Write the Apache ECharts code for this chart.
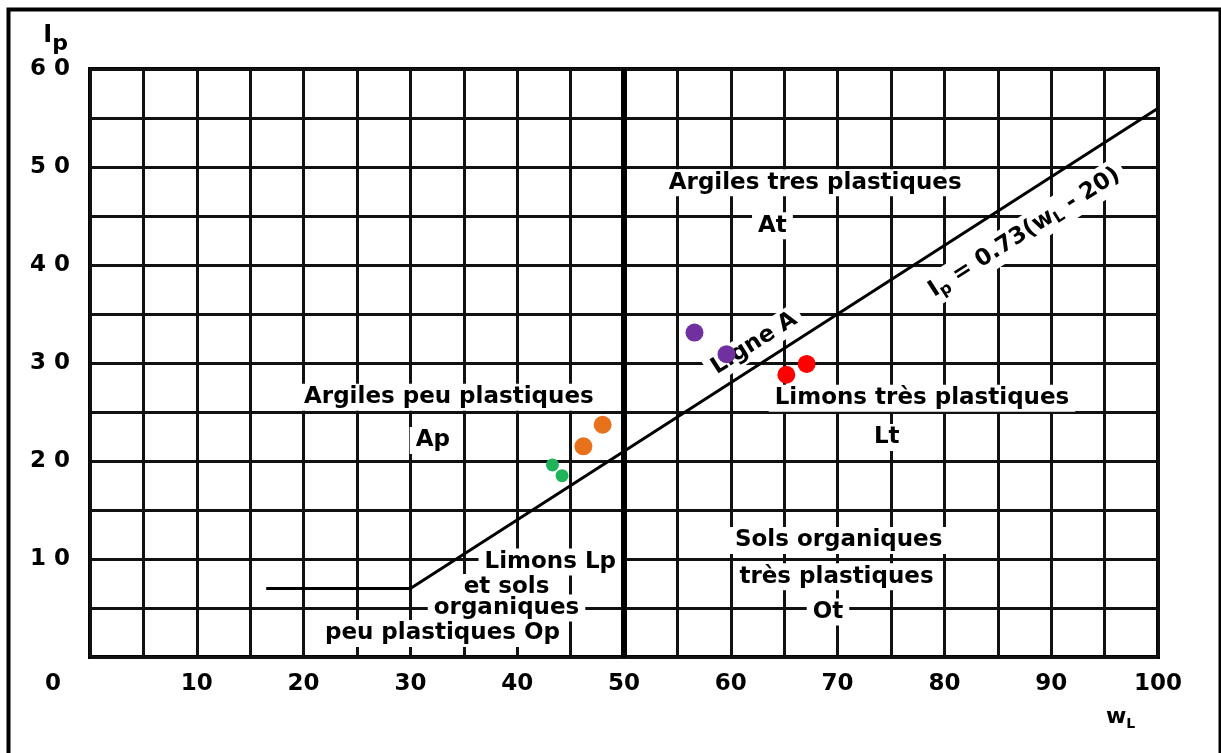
<!DOCTYPE html>
<html>
<head>
<meta charset="utf-8">
<script src="https://cdn.jsdelivr.net/npm/echarts@6/dist/echarts.min.js"></script>
<style>
  html, body { margin: 0; padding: 0; background: #fff; }
  #plasticity { width: 1221px; height: 753px; }
</style>
</head>
<body>
<div id="plasticity"></div>
<script>
// labelled ticks
const wLLabels = [0, 10, 20, 30, 40, 50, 60, 70, 80, 90, 100];
const ipLabels = [10, 20, 30, 40, 50, 60];

// A-line and the wL = 50 divider
const aLine = [[16.5, 7], [30, 7], [100, 56]];
const wLDivider = 50;

// sample points [wL, Ip]
const purplePts = [[56.6, 33.1], [59.6, 30.9]];
const redPts = [[65.2, 28.8], [67.1, 29.9]];
const orangePts = [[48.0, 23.7], [46.2, 21.5]];
const greenPts = [[43.3, 19.6], [44.2, 18.5]];

// zone names [wL, Ip, text]
const zoneNames = [
  [67.9, 48.4, 'Argiles tres plastiques'],
  [63.9, 44.0, 'At'],
  [33.6, 26.5, 'Argiles peu plastiques'],
  [32.1, 22.1, 'Ap'],
  [77.9, 26.4, 'Limons très plastiques'],
  [74.6, 22.4, 'Lt'],
  [70.1, 11.9, 'Sols organiques'],
  [69.9, 8.2, 'très plastiques'],
  [69.1, 4.6, 'Ot'],
  [43.1, 9.7, 'Limons Lp'],
  [39.0, 7.1, 'et sols'],
  [39.0, 5.0, 'organiques'],
  [33.0, 2.4, 'peu plastiques Op']
];
// text along the A-line
const lineNotes = [
  [62.2, 32.0, 'Ligne A'],
  [87.5, 43.3, '{t|I}{s|p}{t| = 0.73(w}{s|L}{t| - 20)}']
];

const FONT = 'DejaVu Sans';
const INK = '#000';
const myChart = echarts.init(document.getElementById('plasticity'));

function dots(pts, color, size) {
  return {
    type: 'scatter',
    data: pts,
    symbolSize: size,
    itemStyle: { color: color, opacity: 1 },
    z: 6,
    silent: true
  };
}

const option = {
  backgroundColor: '#fff',
  animation: false,
  graphic: [{
    type: 'rect',
    left: 6, top: 7,
    shape: { width: 1212, height: 760 },
    style: { fill: null, stroke: '#000', lineWidth: 4 },
    silent: true
  }],
  grid: {
    left: 90, right: 63, top: 69, bottom: 96,
    show: true, borderColor: '#000', borderWidth: 4, backgroundColor: '#fff'
  },
  xAxis: {
    type: 'value', min: 0, max: 100, interval: 5,
    name: '{w|w}{l|L}',
    nameLocation: 'end', nameGap: -52,
    nameTextStyle: {
      align: 'left', verticalAlign: 'top', padding: [46, 0, 0, 0],
      rich: {
        w: { fontFamily: FONT, fontWeight: 'bold', fontSize: 22, color: INK },
        l: { fontFamily: FONT, fontWeight: 'bold', fontSize: 14, color: INK, padding: [14, 0, 0, 0] }
      }
    },
    axisLine: { show: false },
    axisTick: { show: false },
    splitLine: { show: true, lineStyle: { color: '#111', width: 3 } },
    axisLabel: {
      margin: 16,
      fontFamily: FONT, fontWeight: 'bold', fontSize: 23, color: INK,
      formatter: v => {
        if (wLLabels.indexOf(v) < 0) return '';
        return v === 0 ? '{z|0}' : String(v);
      },
      rich: {
        z: { fontFamily: FONT, fontWeight: 'bold', fontSize: 23, color: INK, padding: [0, 74, 0, 0] }
      }
    }
  },
  yAxis: {
    type: 'value', min: 0, max: 60, interval: 5,
    name: '{i|I}{p|p}',
    nameLocation: 'end', nameGap: 14,
    nameTextStyle: {
      align: 'right', padding: [0, 22, 0, 0],
      rich: {
        i: { fontFamily: FONT, fontWeight: 'bold', fontSize: 24, color: INK },
        p: { fontFamily: FONT, fontWeight: 'bold', fontSize: 22, color: INK, padding: [16, 0, 0, 0] }
      }
    },
    axisLine: { show: false },
    axisTick: { show: false },
    splitLine: { show: true, lineStyle: { color: '#111', width: 3 } },
    axisLabel: {
      margin: 20,
      fontFamily: FONT, fontWeight: 'bold', fontSize: 23, color: INK,
      formatter: v => ipLabels.indexOf(v) < 0 ? '' : String(v).split('').join(' ')
    }
  },
  series: [
    {
      type: 'scatter',
      data: zoneNames.map(d => ({ value: [d[0], d[1]], label: { formatter: d[2] } })),
      symbolSize: 0,
      itemStyle: { opacity: 1 },
      z: 3,
      silent: true,
      label: {
        show: true, position: 'inside',
        fontFamily: FONT, fontWeight: 'bold', fontSize: 23, color: INK,
        backgroundColor: '#fff', padding: [2, 6]
      }
    },
    {
      type: 'scatter',
      data: lineNotes.map(d => ({ value: [d[0], d[1]], label: { formatter: d[2] } })),
      symbolSize: 0,
      itemStyle: { opacity: 1 },
      z: 3,
      silent: true,
      label: {
        show: true, position: 'inside', rotate: 32.5,
        fontFamily: FONT, fontWeight: 'bold', fontSize: 23, color: INK,
        backgroundColor: '#fff', padding: [2, 6],
        rich: {
          t: { fontFamily: FONT, fontWeight: 'bold', fontSize: 23, color: INK },
          s: { fontFamily: FONT, fontWeight: 'bold', fontSize: 16, color: INK, padding: [12, 0, 0, 0] }
        }
      }
    },
    {
      type: 'line',
      data: aLine,
      symbol: 'none',
      z: 5,
      silent: true,
      lineStyle: { color: '#000', width: 3 },
      markLine: {
        silent: true,
        symbol: ['none', 'none'],
        label: { show: false },
        lineStyle: { color: '#000', width: 6, type: 'solid' },
        data: [{ xAxis: wLDivider }]
      }
    },
    dots(purplePts, '#7030a0', 18),
    dots(redPts, '#ff0000', 18),
    dots(orangePts, '#e8721c', 18),
    dots(greenPts, '#1fb35a', 13)
  ]
};

myChart.setOption(option);
</script>
</body>
</html>
